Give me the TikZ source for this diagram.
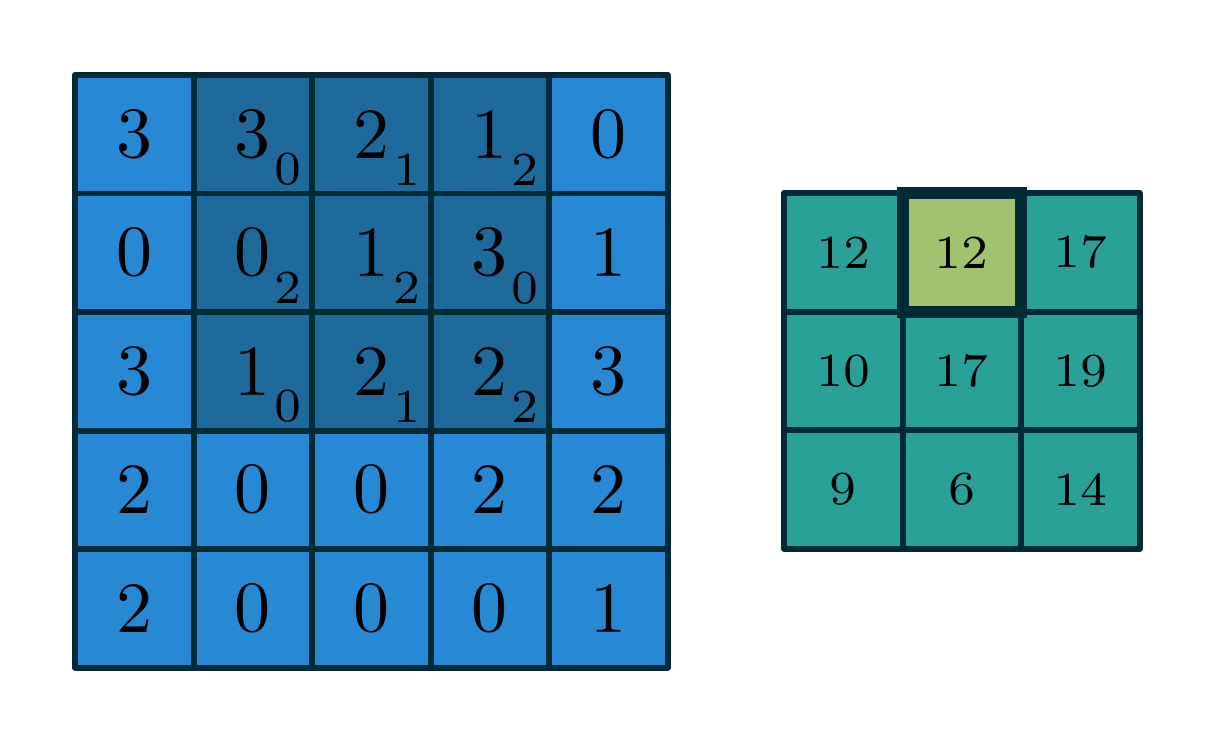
\documentclass[tikz,border=0pt]{standalone}
\usepackage{fontspec}
\newfontfamily\lmseven{lmroman7-regular.otf}
\newfontfamily\lmten{lmroman10-regular.otf}
\usetikzlibrary{calc}
\definecolor{lblue}{HTML}{2788D3}
\definecolor{dblue}{HTML}{1D6A9B}
\definecolor{edge}{HTML}{002A36}
\definecolor{teal}{HTML}{2AA198}
\definecolor{hlgreen}{HTML}{A1C26F}
\tikzset{
  cell/.style={draw=edge, line width=0.12cm, minimum size=2.37cm, inner sep=0pt, outer sep=0pt, line join=round},
  lcell/.style={cell, fill=lblue, font=\lmten\fontsize{41}{48}\selectfont},
  dcell/.style={cell, fill=dblue, font=\lmten\fontsize{41}{48}\selectfont},
  rcell/.style={cell, fill=teal, font=\lmseven\fontsize{27}{32}\selectfont},
  hcell/.style={cell, fill=hlgreen, font=\lmseven\fontsize{27}{32}\selectfont},
  sub/.style={inner sep=0pt, font=\lmseven\fontsize{27}{32}\selectfont},
  hl/.style={draw=edge, line width=0.24cm, line join=miter}
}
\begin{document}
\begin{tikzpicture}
\useasboundingbox (0,0) rectangle (24.3,-14.84);
% left grid: origin x=1.5, y=-1.5, cell 2.37
\def\lx{1.5}\def\ly{-1.5}\def\cs{2.37}
\foreach \r/\row in {1/{3,3,2,1,0},2/{0,0,1,3,1},3/{3,1,2,2,3},4/{2,0,0,2,2},5/{2,0,0,0,1}}{
  \foreach \v [count=\c] in \row {
    \pgfmathsetmacro{\px}{\lx+(\c-0.5)*\cs}
    \pgfmathsetmacro{\py}{\ly-(\r-0.5)*\cs}
    \pgfmathtruncatemacro{\isdark}{(\r<4)&&(\c>1)&&(\c<5)}
    \ifnum\isdark=1
      \node[dcell] (L\r\c) at (\px,\py) {\v};
    \else
      \node[lcell] (L\r\c) at (\px,\py) {\v};
    \fi
  }
}
% kernel subscripts
\foreach \r/\c/\k in {1/2/0,1/3/1,1/4/2,2/2/2,2/3/2,2/4/0,3/2/0,3/3/1,3/4/2}{
  \node[sub] (S\r\c) at ($(L\r\c.center)+(0.71,-0.7)$) {\k};
}
% right grid
\def\rx{15.68}\def\ry{-3.86}
\foreach \r/\row in {1/{12,12,17},2/{10,17,19},3/{9,6,14}}{
  \foreach \v [count=\c] in \row {
    \pgfmathsetmacro{\px}{\rx+(\c-0.5)*\cs}
    \pgfmathsetmacro{\py}{\ry-(\r-0.5)*\cs}
    \pgfmathtruncatemacro{\ishl}{(\r==1)&&(\c==2)}
    \ifnum\ishl=1
      \node[hcell] (R\r\c) at (\px,\py) {\v};
    \else
      \node[rcell] (R\r\c) at (\px,\py) {\v};
    \fi
  }
}
\draw[hl] (R12.north west) rectangle (R12.south east);
\end{tikzpicture}
\end{document}
